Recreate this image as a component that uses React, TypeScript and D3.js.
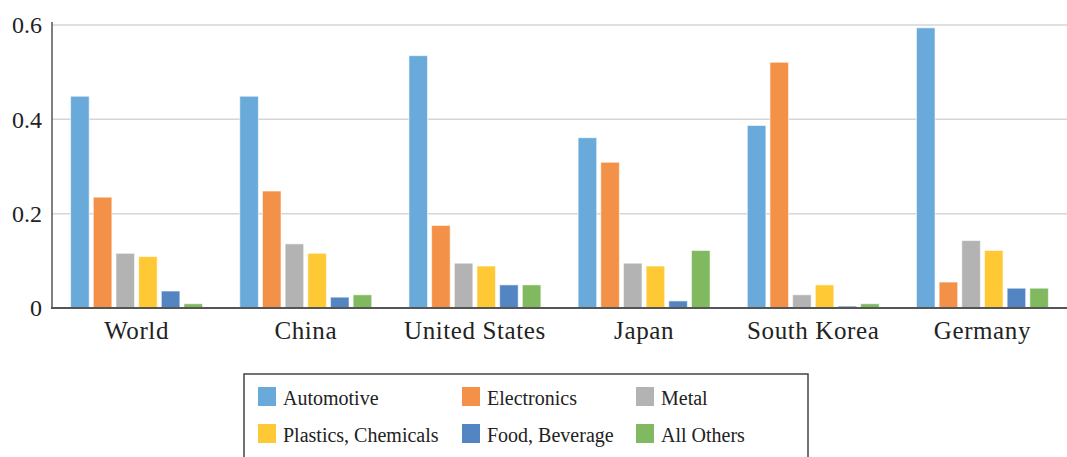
import { useEffect, useRef } from 'react';
import * as d3 from 'd3';

const categories = ['World', 'China', 'United States', 'Japan', 'South Korea', 'Germany'];
const seriesNames = ['Automotive', 'Electronics', 'Metal', 'Plastics, Chemicals', 'Food, Beverage', 'All Others'];
const seriesColors = ['#69aadb', '#f49149', '#b3b3b3', '#ffc936', '#5385c3', '#80b95f'];

const automotive = [0.449, 0.449, 0.535, 0.361, 0.387, 0.594];
const electronics = [0.235, 0.248, 0.175, 0.309, 0.521, 0.055];
const metal = [0.116, 0.136, 0.095, 0.095, 0.028, 0.143];
const plastics = [0.109, 0.116, 0.089, 0.089, 0.049, 0.122];
const food = [0.036, 0.023, 0.049, 0.015, 0.004, 0.042];
const others = [0.009, 0.028, 0.049, 0.122, 0.009, 0.042];

const yTicks = [0, 0.2, 0.4, 0.6];
const yTickLabels = ['0', '0.2', '0.4', '0.6'];

export default function App() {
  const containerRef = useRef<HTMLDivElement>(null);

  useEffect(() => {
    if (!containerRef.current) return;
    d3.select(containerRef.current).selectAll('*').remove();

    const width = 1067;
    const height = 457;
    const font = "'Liberation Serif', 'Times New Roman', Tinos, 'DejaVu Serif', 'Noto Serif', Times, serif";

    const svg = d3
      .select(containerRef.current)
      .append('svg')
      .attr('width', width)
      .attr('height', height)
      .style('position', 'absolute')
      .style('top', '0px')
      .style('left', '0px')
      .style('background', '#fff');

    const values = [automotive, electronics, metal, plastics, food, others];

    const x0 = d3
      .scaleBand<string>()
      .domain(categories)
      .range([52, 1067])
      .paddingInner(0.22)
      .paddingOuter(0.11);

    const x1 = d3
      .scaleBand<string>()
      .domain(seriesNames)
      .range([0, x0.bandwidth()])
      .paddingInner(0.18);

    const y = d3.scaleLinear().domain([0, 0.6]).range([308, 25]);

    // gridlines
    svg
      .append('g')
      .selectAll('line')
      .data(yTicks.filter((d) => d > 0))
      .join('line')
      .attr('x1', 52)
      .attr('x2', 1067)
      .attr('y1', (d) => y(d))
      .attr('y2', (d) => y(d))
      .attr('stroke', '#d6d6d6')
      .attr('stroke-width', 1.5);

    // tick labels
    svg
      .append('g')
      .selectAll('text')
      .data(yTicks)
      .join('text')
      .attr('x', 42)
      .attr('y', (d) => y(d))
      .attr('dy', '0.35em')
      .attr('text-anchor', 'end')
      .style('font-family', font)
      .attr('font-size', 24)
      .attr('fill', '#222')
      .text((_, i) => yTickLabels[i]);

    // bars
    categories.forEach((cat, ci) => {
      const g = svg.append('g').attr('transform', `translate(${x0(cat)},0)`);
      seriesNames.forEach((s, si) => {
        const v = values[si][ci];
        g.append('rect')
          .attr('x', x1(s)!)
          .attr('y', y(v))
          .attr('width', x1.bandwidth())
          .attr('height', y(0) - y(v))
          .attr('fill', seriesColors[si])
          .attr('stroke', '#ffffff')
          .attr('stroke-opacity', 0.6)
          .attr('stroke-width', 1);
      });
    });

    // axes lines
    svg
      .append('line')
      .attr('x1', 52)
      .attr('x2', 52)
      .attr('y1', 22)
      .attr('y2', 309)
      .attr('stroke', '#555')
      .attr('stroke-width', 1.5);
    svg
      .append('line')
      .attr('x1', 51)
      .attr('x2', 1067)
      .attr('y1', y(0))
      .attr('y2', y(0))
      .attr('stroke', '#555')
      .attr('stroke-width', 2);

    // category labels
    svg
      .append('g')
      .selectAll('text')
      .data(categories)
      .join('text')
      .attr('x', (d) => x0(d)! + x0.bandwidth() / 2)
      .attr('y', 339)
      .attr('text-anchor', 'middle')
      .style('font-family', font)
      .attr('font-size', 25)
      .attr('letter-spacing', 0.6)
      .attr('fill', '#222')
      .text((d) => d);

    // legend
    const legend = svg.append('g');
    legend
      .append('rect')
      .attr('x', 244)
      .attr('y', 374)
      .attr('width', 564)
      .attr('height', 95)
      .attr('fill', '#fff')
      .attr('stroke', '#444')
      .attr('stroke-width', 1.5);

    const colX = [258, 462, 636];
    const rowY = [387, 424];
    seriesNames.forEach((s, i) => {
      const cx = colX[i % 3];
      const ry = rowY[Math.floor(i / 3)];
      legend
        .append('rect')
        .attr('x', cx)
        .attr('y', ry)
        .attr('width', 18)
        .attr('height', 19)
        .attr('fill', seriesColors[i]);
      legend
        .append('text')
        .attr('x', cx + 25)
        .attr('y', ry + 18)
        .style('font-family', font)
        .attr('font-size', 20)
        .attr('fill', '#222')
        .text(s);
    });
  }, []);

  return <div ref={containerRef} style={{ width: 1067, height: 457 }}></div>;
}
